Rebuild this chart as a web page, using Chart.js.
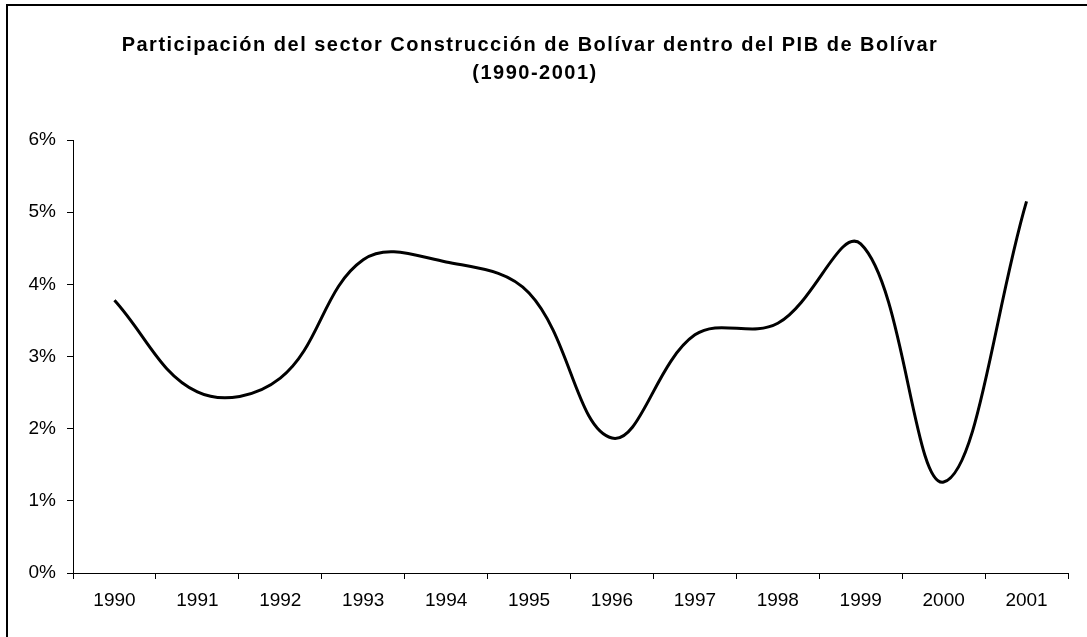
<!DOCTYPE html>
<html>
<head>
<meta charset="utf-8">
<script src="https://cdn.jsdelivr.net/npm/chart.js@4"></script>
<style>
  html, body { margin: 0; padding: 0; background: #fff; }
  #wrap { position: relative; width: 1087px; height: 637px; }
  #frame { position: absolute; left: 6px; top: 4px; right: -10px; bottom: -10px;
           border-left: 2px solid #000; border-top: 2px solid #000; pointer-events: none; }
</style>
</head>
<body>
<div id="wrap">
  <canvas id="chart" width="1087" height="637"></canvas>
  <div id="frame"></div>
</div>
<script>
const years = ["1990", "1991", "1992", "1993", "1994", "1995", "1996", "1997", "1998", "1999", "2000", "2001"];
// share of construction in Bolivar GDP, percent
const share = [3.78, 2.51, 2.70, 4.34, 4.31, 3.88, 1.87, 3.30, 3.46, 4.56, 1.26, 5.15];
const yTicks = [0, 1, 2, 3, 4, 5, 6];
const titleLines = ["Participación del sector Construcción de Bolívar dentro del PIB de Bolívar", "(1990-2001)"];

const font = "'Liberation Sans', Arial, sans-serif";

// title drawn by hand so it can get the wide letter spacing of the original
const spacedTitle = {
  id: "spacedTitle",
  afterDraw(chart) {
    const ctx = chart.ctx;
    ctx.save();
    ctx.fillStyle = "#000";
    ctx.font = "bold 20px " + font;
    ctx.textAlign = "center";
    ctx.textBaseline = "middle";
    ctx.letterSpacing = "1.5px";
    ctx.fillText(titleLines[0], 530, 45);
    ctx.fillText(titleLines[1], 535, 73);
    ctx.restore();
  }
};

new Chart(document.getElementById("chart"), {
  type: "line",
  data: {
    labels: years,
    datasets: [{
      label: "Participación",
      data: share,
      borderColor: "#000",
      borderWidth: 3,
      pointRadius: 0,
      tension: 0.38,
      fill: false
    }]
  },
  options: {
    responsive: false,
    animation: false,
    layout: { padding: { left: 0, right: 19, top: 140, bottom: 0 } },
    plugins: {
      legend: { display: false },
      tooltip: { enabled: false },
      title: { display: false }
    },
    scales: {
      x: {
        offset: true,
        afterFit: s => { s.height = 64; },
        border: { color: "#000", width: 1 },
        grid: { display: true, drawOnChartArea: false, drawTicks: true, tickLength: 6, color: "#000", offset: true },
        ticks: { color: "#000", font: { family: font, size: 19 }, padding: 10, maxRotation: 0 }
      },
      y: {
        min: 0,
        max: 6,
        afterFit: s => { s.width = 73; },
        afterBuildTicks: s => { s.ticks = yTicks.map(v => ({ value: v })); },
        border: { color: "#000", width: 1 },
        grid: { display: true, drawOnChartArea: false, drawTicks: true, tickLength: 6, color: "#000" },
        ticks: { color: "#000", font: { family: font, size: 19 }, padding: 11, callback: v => v + "%" }
      }
    }
  },
  plugins: [spacedTitle]
});
</script>
</body>
</html>
